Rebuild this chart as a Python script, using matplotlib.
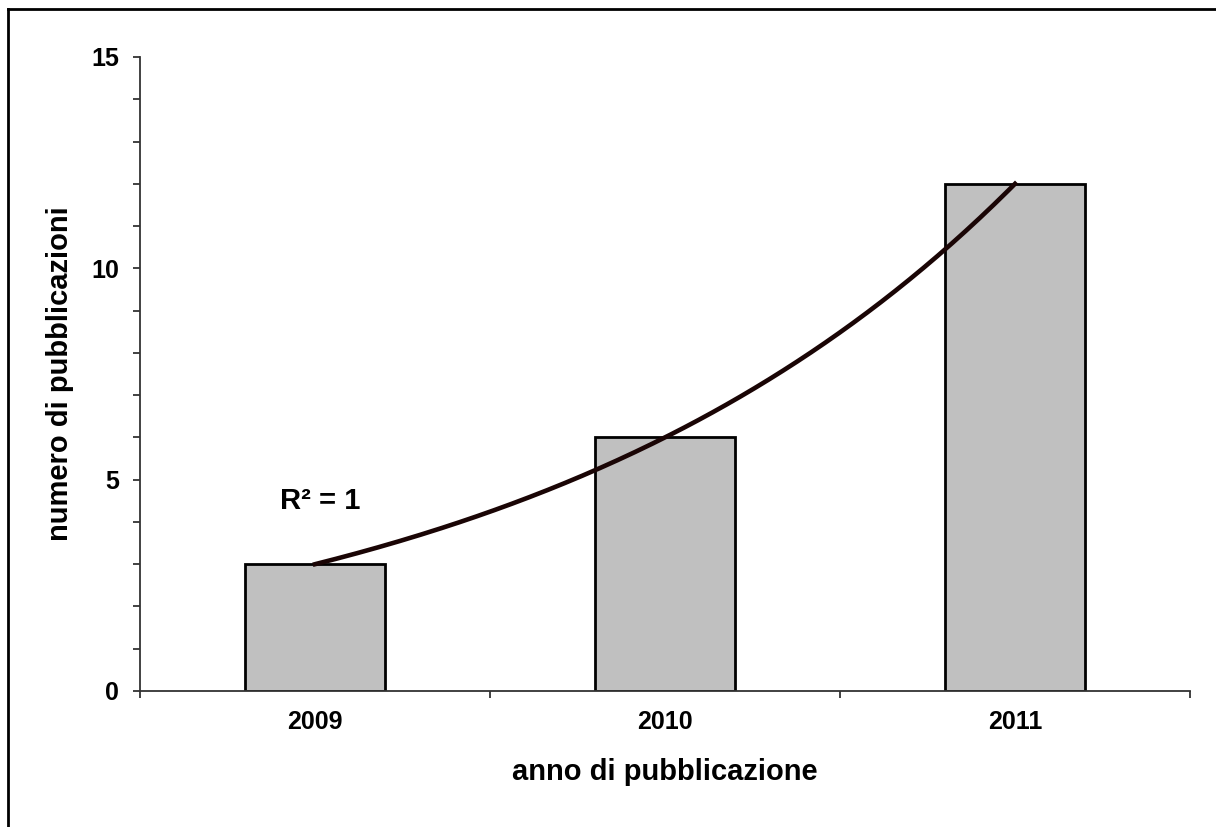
import numpy as np
from matplotlib import pyplot as plt
from matplotlib.lines import Line2D
from matplotlib.ticker import MultipleLocator

# data
# ------------------------------------------------------------------------------
anni = ['2009', '2010', '2011']
pubblicazioni = [3, 6, 12]

plt.rcParams['font.family'] = ['Liberation Sans', 'DejaVu Sans']
plt.rcParams['font.weight'] = 'bold'

fig = plt.figure(figsize=(12.16, 8.27), dpi=100)
ax = fig.add_axes([140/1216, 1-691/827, 1050/1216, 634/827])

x = np.arange(len(anni))
ax.bar(x, pubblicazioni, width=0.4, color='#c0c0c0', edgecolor='black', linewidth=2, zorder=2)

# exponential trendline (Excel style)
b, ln_a = np.polyfit(x, np.log(pubblicazioni), 1)
xs = np.linspace(x[0], x[-1], 200)
ax.plot(xs, np.exp(ln_a)*np.exp(b*xs), color='#1a0505', linewidth=3.3, zorder=3)
ax.text(-0.1, 4.5, 'R² = 1', fontsize=21, fontweight='bold', va='center', ha='left')

# axes
# ------------------------------------------------------------------------------
ax.set_xlim(-0.5, 2.5)
ax.set_ylim(0, 15)
for s in ['top', 'right']:
    ax.spines[s].set_visible(False)
for s in ['left', 'bottom']:
    ax.spines[s].set_color('#333333')
    ax.spines[s].set_linewidth(1.3)

ax.yaxis.set_major_locator(MultipleLocator(5))
ax.yaxis.set_minor_locator(MultipleLocator(1))
ax.tick_params(axis='y', which='both', direction='out', length=5, width=1.3, color='#333333')
ax.tick_params(axis='y', which='major', labelsize=18, pad=10)

ax.set_xticks(x)
ax.set_xticklabels(anni)
ax.set_xticks(np.arange(-0.5, 3.0, 1.0), minor=True)
ax.tick_params(axis='x', which='major', length=0, labelsize=18, pad=14)
ax.tick_params(axis='x', which='minor', direction='out', length=5, width=1.3, color='#333333')

ax.set_xlabel('anno di pubblicazione', fontsize=21, fontweight='bold')
ax.xaxis.set_label_coords(0.5, -0.128)
ax.set_ylabel('numero di pubblicazioni', fontsize=21, fontweight='bold')
ax.yaxis.set_label_coords(-0.076, 0.5)
ax.xaxis.label.set_va('center')
ax.yaxis.label.set_va('center')

# outer frame (top and left visible)
fig.add_artist(Line2D([8/1216, 8/1216], [0, 1-9/827], transform=fig.transFigure, color='black', linewidth=2))
fig.add_artist(Line2D([8/1216, 1], [1-9/827, 1-9/827], transform=fig.transFigure, color='black', linewidth=2))

fig.savefig('out.png', dpi=100)
